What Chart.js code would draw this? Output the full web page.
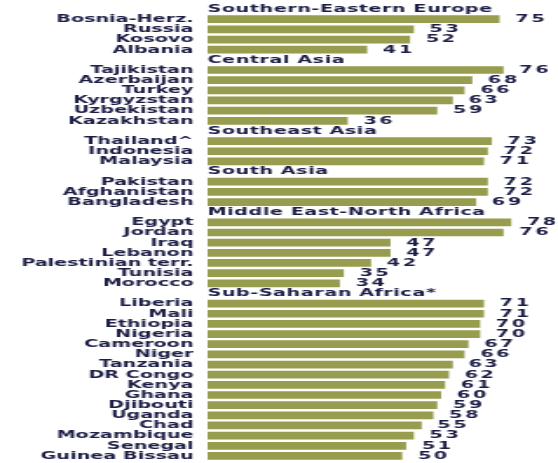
<!DOCTYPE html>
<html>
<head>
<meta charset="utf-8">
<script src="https://cdn.jsdelivr.net/npm/chart.js@4"></script>
<style>
  body { margin: 0; background: #fff; }
</style>
</head>
<body>
<canvas id="chart" width="320" height="463" style="display:block;width:558px;height:463px"></canvas>
<script>
// region headers
var regions = ['Southern-Eastern Europe', 'Central Asia', 'Southeast Asia', 'South Asia',
    'Middle East-North Africa', 'Sub-Saharan Africa*'];

var europe = ['Bosnia-Herz.', 'Russia', 'Kosovo', 'Albania'];
var europeVals = [75, 53, 52, 41];

var centralAsia = ['Tajikistan', 'Azerbaijan', 'Turkey', 'Kyrgyzstan', 'Uzbekistan', 'Kazakhstan'];
var centralAsiaVals = [76, 68, 66, 63, 59, 36];

var seAsia = ['Thailand^', 'Indonesia', 'Malaysia'];
var seAsiaVals = [73, 72, 71];

var southAsia = ['Pakistan', 'Afghanistan', 'Bangladesh'];
var southAsiaVals = [72, 72, 69];

var mena = ['Egypt', 'Jordan', 'Iraq', 'Lebanon', 'Palestinian terr.', 'Tunisia', 'Morocco'];
var menaVals = [78, 76, 47, 47, 42, 35, 34];

var africa = ['Liberia', 'Mali', 'Ethiopia', 'Nigeria', 'Cameroon', 'Niger', 'Tanzania', 'DR Congo',
    'Kenya', 'Ghana', 'Djibouti', 'Uganda', 'Chad', 'Mozambique', 'Senegal', 'Guinea Bissau'];
var africaVals = [71, 71, 70, 70, 67, 66, 63, 62, 61, 60, 59, 58, 55, 53, 51, 50];

var groups = [[europe, europeVals], [centralAsia, centralAsiaVals], [seAsia, seAsiaVals],
    [southAsia, southAsiaVals], [mena, menaVals], [africa, africaVals]];

// flatten: one empty row per region for its header
var labels = [], values = [], headerAt = {};
groups.forEach(function (g, i) {
    headerAt[labels.length] = regions[i];
    labels.push('');
    values.push(null);
    g[0].forEach(function (name, j) {
        labels.push(name);
        values.push(g[1][j]);
    });
});

var textColor = '#1c1e46';
var font = 'bold 11px "DejaVu Sans"';

var barLabels = {
    id: 'barLabels',
    afterDatasetsDraw: function (chart) {
        var ctx = chart.ctx;
        var meta = chart.getDatasetMeta(0);
        var yScale = chart.scales.y;
        ctx.save();
        ctx.font = font;
        ctx.fillStyle = textColor;
        ctx.textBaseline = 'middle';
        ctx.textAlign = 'left';
        ctx.letterSpacing = '0.3px';
        Object.keys(headerAt).forEach(function (i) {
            ctx.fillText(headerAt[i], chart.chartArea.left, yScale.getPixelForValue(+i));
        });
        ctx.letterSpacing = '1.5px';
        meta.data.forEach(function (bar, i) {
            if (values[i] != null) {
                ctx.fillText(values[i], bar.x + 9, bar.y);
            }
        });
        ctx.restore();
    }
};

new Chart(document.getElementById('chart'), {
    type: 'bar',
    data: {
        labels: labels,
        datasets: [{
            data: values,
            backgroundColor: '#979c4e',
            barPercentage: 0.76,
            categoryPercentage: 1
        }]
    },
    options: {
        indexAxis: 'y',
        responsive: false,
        animation: false,
        devicePixelRatio: 1,
        layout: { padding: { top: 4, bottom: 2, left: 0, right: 0 } },
        scales: {
            x: { display: false, min: 0, max: 90 },
            y: {
                grid: { display: false, drawTicks: false },
                border: { display: false },
                ticks: {
                    autoSkip: false,
                    padding: 8,
                    color: textColor,
                    font: { family: 'DejaVu Sans', size: 11, weight: 'bold' }
                },
                afterFit: function (scale) {
                    scale.width = 119;
                    scale.paddingTop = 0;
                    scale.paddingBottom = 0;
                }
            }
        },
        plugins: {
            legend: { display: false },
            tooltip: { enabled: false }
        }
    },
    plugins: [barLabels]
});
</script>
</body>
</html>
